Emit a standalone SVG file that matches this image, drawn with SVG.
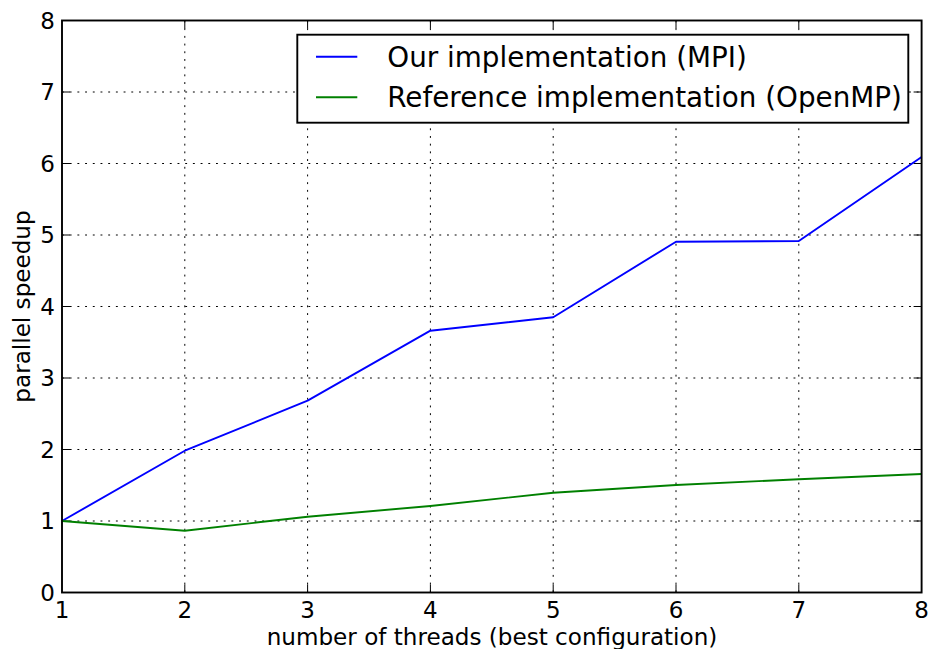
<svg xmlns="http://www.w3.org/2000/svg" width="929" height="649" viewBox="0 0 929 649">
<style>
text{font-family:"DejaVu Sans","Liberation Sans",sans-serif;fill:#000}
.tick{font-size:23px}
.lab{font-size:23.1px}
.leg{font-size:27.8px}
.grid{stroke:#000;stroke-width:1;stroke-dasharray:1.9 5.8;fill:none}
.tk{stroke:#000;stroke-width:1;fill:none}
.series{fill:none;stroke-width:1.9;stroke-linejoin:round}
</style>
<rect x="0" y="0" width="929" height="649" fill="#fff"/>
<g id="grid">
<path class="grid" d="M184.8 20.5V592.5M307.6 20.5V592.5M430.4 20.5V592.5M553.2 20.5V592.5M676 20.5V592.5M798.8 20.5V592.5"/>
<path class="grid" d="M62 521H921.6M62 449.5H921.6M62 378H921.6M62 306.5H921.6M62 235H921.6M62 163.5H921.6M62 92H921.6"/>
</g>
<g id="ticks">
<path class="tk" d="M184.8 592.5v-8M307.6 592.5v-8M430.4 592.5v-8M553.2 592.5v-8M676 592.5v-8M798.8 592.5v-8M184.8 20.5v8M307.6 20.5v8M430.4 20.5v8M553.2 20.5v8M676 20.5v8M798.8 20.5v8"/>
<path class="tk" d="M62 521h8M62 449.5h8M62 378h8M62 306.5h8M62 235h8M62 163.5h8M62 92h8M921.6 521h-8M921.6 449.5h-8M921.6 378h-8M921.6 306.5h-8M921.6 235h-8M921.6 163.5h-8M921.6 92h-8"/>
</g>
<g id="series">
<polyline id="mpi" class="series" stroke="#0000ff" points="62,521 184.8,450.7 307.6,400.7 430.4,330.7 553.2,317.3 676,241.7 798.8,241 921.6,157"/>
<polyline id="openmp" class="series" stroke="#008000" points="62,521 184.8,530.7 307.6,516.7 430.4,506 553.2,492.7 676,485 798.8,479.3 921.6,474"/>
</g>
<rect id="axes-frame" x="62" y="20.5" width="859.6" height="572" fill="none" stroke="#000" stroke-width="1.9"/>
<g id="xticklabels" class="tick" text-anchor="middle">
<text x="62" y="618">1</text>
<text x="184.8" y="618">2</text>
<text x="307.6" y="618">3</text>
<text x="430.4" y="618">4</text>
<text x="553.2" y="618">5</text>
<text x="676" y="618">6</text>
<text x="798.8" y="618">7</text>
<text x="921.6" y="618">8</text>
</g>
<g id="yticklabels" class="tick" text-anchor="end">
<text x="55" y="600.8">0</text>
<text x="55" y="529.3">1</text>
<text x="55" y="457.8">2</text>
<text x="55" y="386.3">3</text>
<text x="55" y="314.8">4</text>
<text x="55" y="243.3">5</text>
<text x="55" y="171.8">6</text>
<text x="55" y="100.3">7</text>
<text x="55" y="28.8">8</text>
</g>
<text id="xlabel" class="lab" x="492" y="645" text-anchor="middle">number of threads (best configuration)</text>
<text id="ylabel" class="lab" x="0" y="0" text-anchor="middle" transform="translate(29.5,306.5) rotate(-90)">parallel speedup</text>
<g id="legend">
<rect x="297.3" y="34.7" width="611" height="88" fill="#fff" stroke="#000" stroke-width="1.9"/>
<line x1="316" y1="56.7" x2="357.3" y2="56.7" stroke="#0000ff" stroke-width="1.9"/>
<line x1="316" y1="97.3" x2="357.3" y2="97.3" stroke="#008000" stroke-width="1.9"/>
<text class="leg" x="387.3" y="66.7">Our implementation (MPI)</text>
<text class="leg" x="387.3" y="107.3">Reference implementation (OpenMP)</text>
</g>
</svg>
